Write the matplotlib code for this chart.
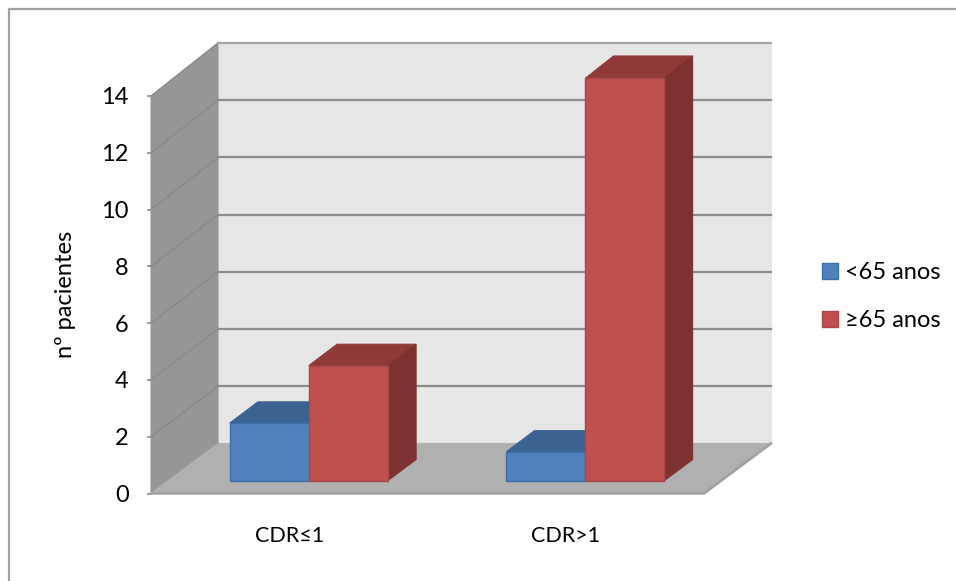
#!/usr/bin/env python3
"""Oblique 3D-style column chart: patients by CDR group and age band."""

import matplotlib
matplotlib.use('Agg')
import matplotlib.pyplot as plt
from matplotlib.patches import Polygon, Patch
from matplotlib.lines import Line2D

plt.rcParams['font.family'] = ['Lato', 'DejaVu Sans']

categories = ['CDR≤1', 'CDR>1']
series_names = ['<65 anos', '≥65 anos']
under_65 = [2, 1]
over_65 = [4, 14]
y_ticks = [0, 2, 4, 6, 8, 10, 12, 14]
y_label = 'nº pacientes'

W, H = 956, 581

# colours: front, top, side
BLUE = ('#4f81bd', '#3b6290', '#34577f')
RED = ('#c0504d', '#8f3a38', '#7d3230')
BLUE_EDGE = '#3c6ea8'
RED_EDGE = '#a8484a'
WALL = '#e6e6e6'
SIDE_WALL = '#969696'
FLOOR = '#b0b0b0'
GRID = '#8c8c8c'

# oblique projection: how far the back of the box shifts, in data units
DEPTH_X = 67 / 276.5
DEPTH_Y = 50 / 28.4
BACK_STRETCH = 0.0075
BAR_STRETCH = 1.01

BAR_START = 0.222
BAR_WIDTH = 0.286
BAR_DEPTH = (0.26, 0.68)


def project(x, value, depth=0.0):
    """Map a point in the box to the flat axes coordinates."""
    return (x + DEPTH_X * depth,
            value * (1 + BACK_STRETCH * depth) + DEPTH_Y * depth)


def face(ax, points, color, edge=None, z=1, lw=0.8):
    poly = Polygon(points, closed=True, facecolor=color, edgecolor=edge or color,
                   linewidth=lw, zorder=z, clip_on=False)
    ax.add_patch(poly)


def draw_box(ax, top):
    right = len(categories)
    face(ax, [project(0, 0, 1), project(right, 0, 1),
              project(right, top, 1), project(0, top, 1)], WALL, z=1)
    face(ax, [project(0, 0), project(0, 0, 1),
              project(0, top, 1), project(0, top)], SIDE_WALL, z=1)
    face(ax, [project(0, 0), project(right, 0),
              project(right, 0, 1), project(0, 0, 1)], FLOOR, z=1.5)

    # floor edges
    ax.plot(*zip(project(0, 0), project(right, 0), project(right, 0, 1)),
            color='#a0a0a0', lw=1.8, zorder=1.6, clip_on=False)
    for v in y_ticks[1:]:
        # thin on the side wall, heavier along the back
        ax.plot(*zip(project(0, v), project(0, v, 1)),
                color='#8a8a8a', lw=0.9, zorder=1.4, clip_on=False)
        back_color = '#a6a6a6' if v == top else GRID
        ax.plot(*zip(project(0, v, 1), project(right, v, 1)),
                color=back_color, lw=1.6, zorder=1.4, clip_on=False)


def draw_bar(ax, x, value, colors, edge, z):
    d0, d1 = BAR_DEPTH
    v = value * BAR_STRETCH
    x1 = x + BAR_WIDTH
    front, top, side = colors
    face(ax, [project(x, 0, d0), project(x1, 0, d0),
              project(x1, v, d0), project(x, v, d0)], front, edge, z=z + 0.2, lw=1.0)
    face(ax, [project(x, v, d0), project(x1, v, d0),
              project(x1, v, d1), project(x, v, d1)], top, z=z)
    face(ax, [project(x1, 0, d0), project(x1, 0, d1),
              project(x1, v, d1), project(x1, v, d0)], side, z=z + 0.1)


def main():
    fig = plt.figure(figsize=(W / 100, H / 100), dpi=100)
    # only the top and left sides of the outer frame are visible
    fig.add_artist(Line2D([8.5 / W, 8.5 / W, 1],
                          [0, 1 - 8.5 / H, 1 - 8.5 / H],
                          color='#a0a0a0', lw=1.6))

    left, right_px, top_px, bottom_px = 151, 704, 96, 493.5
    ax = fig.add_axes([left / W, 1 - bottom_px / H,
                       (right_px - left) / W, (bottom_px - top_px) / H])
    ax.set_xlim(0, len(categories))
    ax.set_ylim(0, y_ticks[-1])
    ax.patch.set_visible(False)
    for spine in ax.spines.values():
        spine.set_visible(False)

    draw_box(ax, y_ticks[-1])

    for i in range(len(categories)):
        x = i + BAR_START
        draw_bar(ax, x, under_65[i], BLUE, BLUE_EDGE, 2 + i)
        draw_bar(ax, x + BAR_WIDTH, over_65[i], RED, RED_EDGE, 2.5 + i)

    ax.set_yticks(y_ticks)
    ax.tick_params(axis='y', length=3, width=1.2, color='#8c8c8c', pad=13,
                   labelsize=17, labelcolor='black')
    ax.set_xticks([i + 0.5 for i in range(len(categories))])
    ax.set_xticklabels(categories)
    ax.tick_params(axis='x', length=0, pad=23.5, labelsize=15.5, labelcolor='black')
    ax.set_ylabel(y_label, fontsize=17)
    ax.yaxis.set_label_coords(-0.136, 0.5)

    handles = [Patch(facecolor=BLUE[0], edgecolor=BLUE_EDGE, label=series_names[0]),
               Patch(facecolor=RED[0], edgecolor=RED_EDGE, label=series_names[1])]
    ax.legend(handles=handles, loc='center left', frameon=False,
              bbox_to_anchor=(822 / W, 1 - 296.5 / H), bbox_transform=fig.transFigure,
              fontsize=17, handlelength=0.66, handleheight=0.66, handletextpad=0.3,
              labelspacing=1.13, borderpad=0, borderaxespad=0)

    fig.savefig('out.png', dpi=100)


if __name__ == '__main__':
    main()
